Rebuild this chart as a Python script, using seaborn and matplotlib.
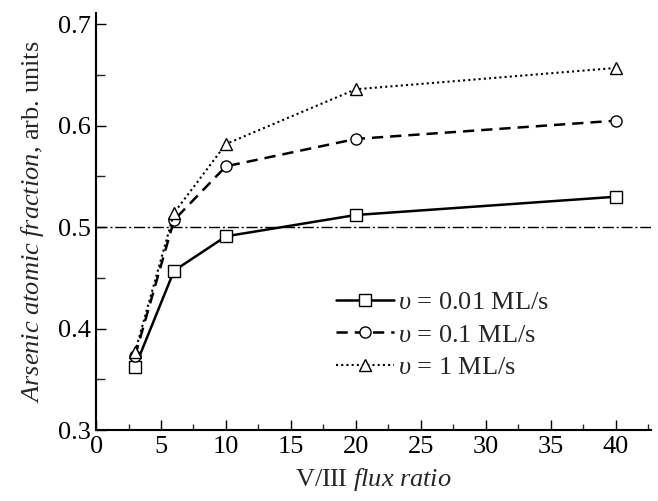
import matplotlib
matplotlib.use("Agg")
import matplotlib.pyplot as plt
from matplotlib.ticker import MultipleLocator
import seaborn as sns
import pandas as pd

flux_ratio = [3, 6, 10, 20, 40]
frac_001 = [0.362, 0.457, 0.491, 0.512, 0.530]
frac_01 = [0.373, 0.507, 0.560, 0.587, 0.605]
frac_1 = [0.377, 0.514, 0.582, 0.636, 0.657]
series_labels = ["$\\mathit{υ}$ = 0.01 ML/s", "$\\mathit{υ}$ = 0.1 ML/s", "$\\mathit{υ}$ = 1 ML/s"]
reference_level = 0.5

sns.set_theme(style="ticks")
plt.rcParams["font.family"] = ["Liberation Serif", "DejaVu Serif"]
plt.rcParams["mathtext.fontset"] = "custom"
plt.rcParams["mathtext.rm"] = "Liberation Serif"
plt.rcParams["mathtext.it"] = "Liberation Serif:italic"
plt.rcParams["mathtext.bf"] = "Liberation Serif:bold"

rows = []
for lab, vals in zip(series_labels, [frac_001, frac_01, frac_1]):
    for x, y in zip(flux_ratio, vals):
        rows.append({"ratio": x, "frac": y, "series": lab})
df = pd.DataFrame(rows)

fig = plt.figure(figsize=(6.58, 5.01), dpi=100)
ax = fig.add_axes([0.146, 0.1417, 0.843, 0.832])

ax.axhline(reference_level, color="black", lw=1.0, dashes=(8, 2, 1.5, 2), zorder=1)

styles = {
    series_labels[0]: dict(lw=1.8, marker="s", dashes=None),
    series_labels[1]: dict(lw=1.8, marker="o", dashes=(4.5, 2.8)),
    series_labels[2]: dict(lw=1.5, marker="^", dashes=(1, 1.5)),
}
for lab in series_labels:
    st = styles[lab]
    sub = df[df["series"] == lab]
    kw = dict(x="ratio", y="frac", data=sub, ax=ax, color="black", lw=st["lw"],
              marker=st["marker"], markersize=8, markerfacecolor="white",
              markeredgecolor="black", markeredgewidth=1.0, label=lab, zorder=3)
    if st["dashes"] is not None:
        kw["dashes"] = st["dashes"]
    sns.lineplot(**kw)

ax.set_xlim(0, 42.7)
ax.set_ylim(0.3, 0.711)
ax.xaxis.set_major_locator(MultipleLocator(5))
ax.xaxis.set_minor_locator(MultipleLocator(2.5))
ax.yaxis.set_major_locator(MultipleLocator(0.1))
ax.yaxis.set_minor_locator(MultipleLocator(0.05))
ax.tick_params(which="major", direction="in", length=7, width=1.0, labelsize=19, colors="black", pad=4)
ax.tick_params(which="minor", direction="in", length=4.5, width=1.0)
ax.tick_params(axis="y", which="minor", length=6.5)
ax.set_yticklabels([f"{v:.1f}" for v in ax.get_yticks()])
for s in ["top", "right"]:
    ax.spines[s].set_visible(False)
for s in ["left", "bottom"]:
    ax.spines[s].set_linewidth(1.5)
    ax.spines[s].set_color("black")

ax.set_xlabel(r"V/III $\mathit{flux\ ratio}$", fontsize=19, labelpad=6)
ax.set_ylabel(r"$\mathit{Arsenic\ atomic\ fraction}$, arb. units", fontsize=19, labelpad=8)

handles, labels = ax.get_legend_handles_labels()
ax.legend(handles, labels, loc="upper left", bbox_to_anchor=(0.432, 0.335), frameon=False,
          fontsize=19, handlelength=2.2, handletextpad=0.15, borderpad=0, borderaxespad=0,
          labelspacing=0.35)

fig.savefig("out.png", dpi=100)
